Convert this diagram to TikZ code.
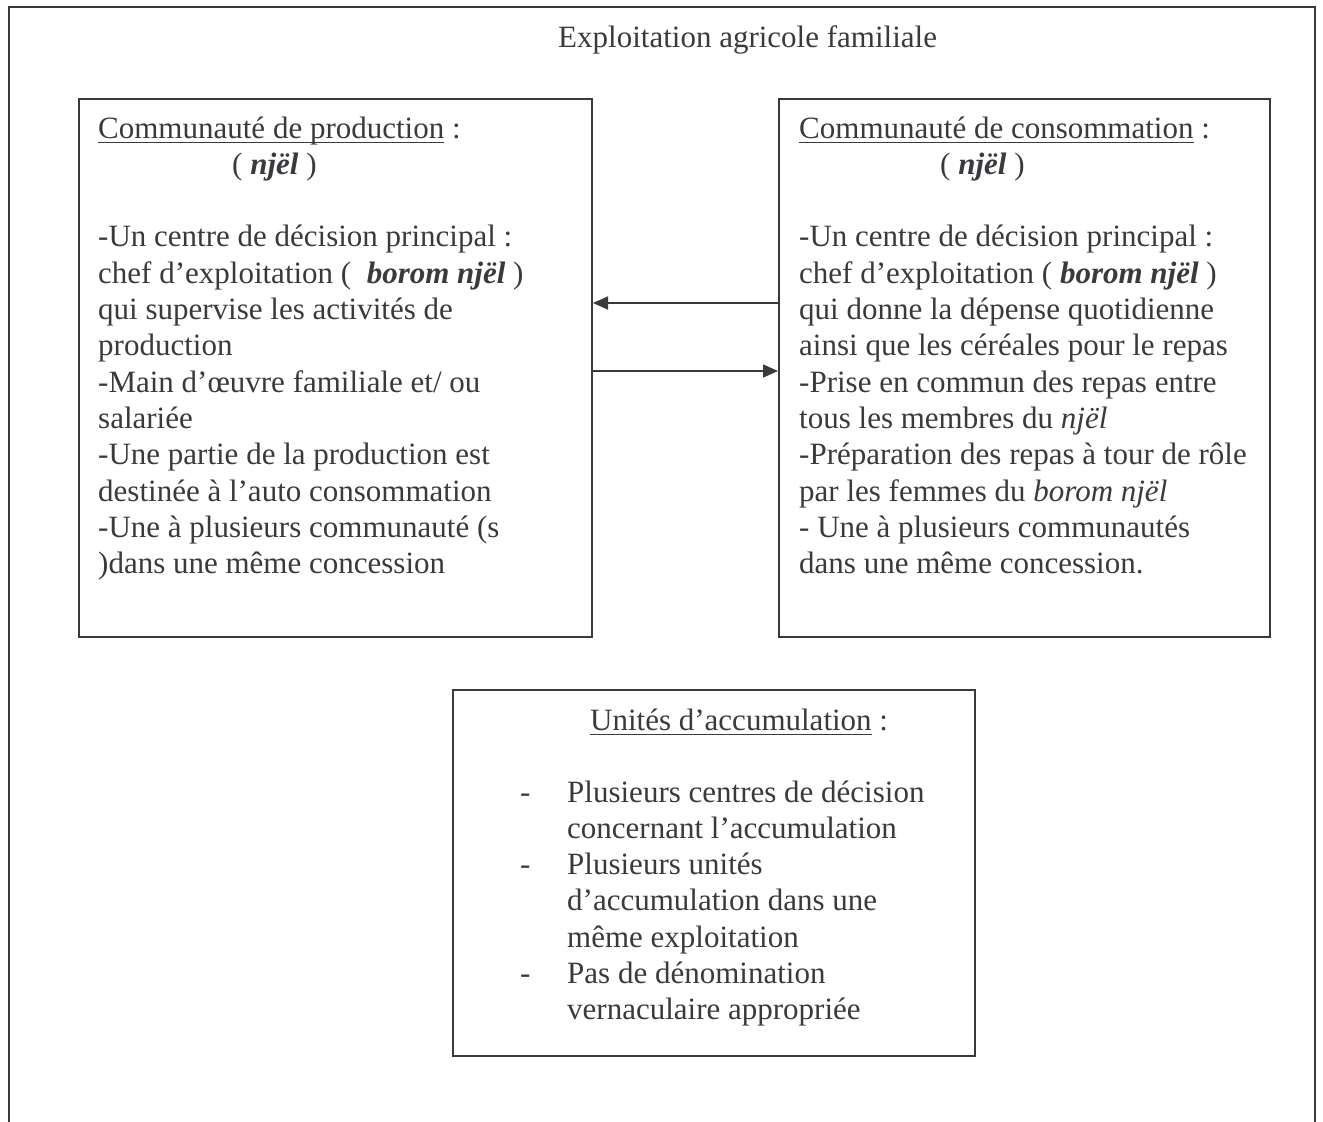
\documentclass[tikz,border=0pt]{standalone}
\usepackage{fontspec}
\setmainfont{Liberation Serif}
\usetikzlibrary{arrows.meta}
\definecolor{ink}{RGB}{58,58,62}
\newcommand\myul[1]{\setbox0=\hbox{#1}\rlap{\rule[-5pt]{\wd0}{1.5pt}}#1}
\newcommand\bi[1]{\textbf{\textit{#1}}}
\begin{document}
\begin{tikzpicture}[x=1pt,y=-1pt,
  txt/.style={anchor=base west, inner sep=0pt, text=ink, font=\fontsize{31}{36.3}\selectfont},
  boxst/.style={draw=ink, line width=2pt, inner sep=0pt},
  arr/.style={draw=ink, line width=1.6pt, -{Triangle[length=15pt,width=13pt]}}]
\useasboundingbox (0,0) rectangle (1323,1122);
\draw[ink, line width=2pt] (9,1130) -- (9,7) -- (1315,7) -- (1315,1130);
\node[txt] (title) at (558,47) {Exploitation agricole familiale};
% boxes
\node[boxst, minimum width=513pt, minimum height=538pt] (prod) at (335.5,368) {};
\node[boxst, minimum width=491pt, minimum height=538pt] (cons) at (1024.5,368) {};
\node[boxst, minimum width=522pt, minimum height=366pt] (acc) at (714,873) {};
% arrows
\draw[arr] (cons.west |- 0,303) -- (prod.east |- 0,303);
\draw[arr] (prod.east |- 0,371) -- (cons.west |- 0,371);
% left box text
\node[txt] (p0) at (98,138) {\myul{Communauté de production} :};
\node[txt] (p1) at (232,174.3) {( \bi{njël} )};
\node[txt] (p3) at (98,246.9) {-Un centre de décision principal :};
\node[txt] (p4) at (98,283.2) {chef d’exploitation (\ \ \bi{borom njël} )};
\node[txt] (p5) at (98,319.5) {qui supervise les activités de};
\node[txt] (p6) at (98,355.8) {production};
\node[txt] (p7) at (98,392.1) {-Main d’œuvre familiale et/ ou};
\node[txt] (p8) at (98,428.4) {salariée};
\node[txt] (p9) at (98,464.7) {-Une partie de la production est};
\node[txt] (p10) at (98,501) {destinée à l’auto consommation};
\node[txt] (p11) at (98,537.3) {-Une à plusieurs communauté (s};
\node[txt] (p12) at (98,573.6) {)dans une même concession};
% right box text
\node[txt] (c0) at (799,138) {\myul{Communauté de consommation} :};
\node[txt] (c1) at (940,174.3) {( \bi{njël} )};
\node[txt] (c3) at (799,246.9) {-Un centre de décision principal :};
\node[txt] (c4) at (799,283.2) {chef d’exploitation ( \bi{borom njël} )};
\node[txt] (c5) at (799,319.5) {qui donne la dépense quotidienne};
\node[txt] (c6) at (799,355.8) {ainsi que les céréales pour le repas};
\node[txt] (c7) at (799,392.1) {-Prise en commun des repas entre};
\node[txt] (c8) at (799,428.4) {tous les membres du \textit{njël}};
\node[txt] (c9) at (799,464.7) {-Préparation des repas à tour de rôle};
\node[txt] (c10) at (799,501) {par les femmes du \textit{borom njël}};
\node[txt] (c11) at (799,537.3) {- Une à plusieurs communautés};
\node[txt] (c12) at (799,573.6) {dans une même concession.};
% bottom box text
\node[txt] (a0) at (590,730) {\myul{Unités d’accumulation} :};
\node[txt] (d1) at (520,802) {-};
\node[txt] (a1) at (567,802) {Plusieurs centres de décision};
\node[txt] (a2) at (567,838.3) {concernant l’accumulation};
\node[txt] (d2) at (520,874.6) {-};
\node[txt] (a3) at (567,874.6) {Plusieurs unités};
\node[txt] (a4) at (567,910.9) {d’accumulation dans une};
\node[txt] (a5) at (567,947.2) {même exploitation};
\node[txt] (d3) at (520,983.5) {-};
\node[txt] (a6) at (567,983.5) {Pas de dénomination};
\node[txt] (a7) at (567,1019.8) {vernaculaire appropriée};
\end{tikzpicture}
\end{document}
